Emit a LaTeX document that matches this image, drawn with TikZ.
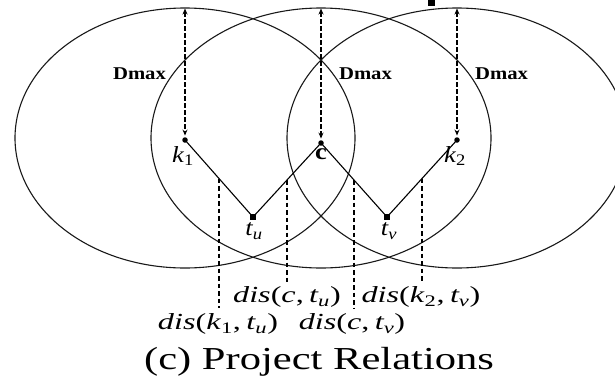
\documentclass[tikz,border=0pt]{standalone}
\usepackage{fontspec}
\setmainfont{Liberation Serif}
\usetikzlibrary{arrows.meta,calc}
\begin{document}
\begin{tikzpicture}[x=1pt,y=-1pt,
  ring/.style={draw=black!90, line width=1.1pt},
  dot/.style={circle, fill=black, inner sep=0pt, minimum size=5.5pt},
  dmaxarrow/.style={line width=1.2pt, dash pattern=on 4.5pt off 2.5pt, {Stealth[length=6pt,width=5pt]}-{Stealth[length=6pt,width=5pt]}, shorten <=0.5pt, shorten >=1.5pt},
  zig/.style={line width=1.1pt},
  dropline/.style={line width=1.2pt, dash pattern=on 4.5pt off 3pt},
  dmaxlabel/.style={font=\fontsize{18}{18}\selectfont\bfseries, inner sep=0pt, xscale=1.15},
  ptlabel/.style={font=\fontsize{23}{23}\selectfont, inner sep=0pt, xscale=1.15},
  dislabel/.style={font=\fontsize{23}{23}\selectfont, inner sep=0pt, xscale=1.4},
  titlelabel/.style={font=\fontsize{32}{32}\selectfont, inner sep=0pt, xscale=1.33}
]
\useasboundingbox (0,0) rectangle (615,381);
\clip (0,0) rectangle (615,381);

% ellipses
\draw[ring] (185,138) ellipse [x radius=170pt, y radius=130pt];
\draw[ring] (321,138) ellipse [x radius=170pt, y radius=130pt];
\draw[ring] (457,138) ellipse [x radius=170pt, y radius=130pt];

% small blob at top
\fill (428,0) rectangle (435,6);

% points
\node[dot] (k1) at (185,140) {};
\node[dot] (c) at (321,143) {};
\node[dot] (k2) at (457,140) {};
\node[dot, rectangle, minimum size=5.5pt] (tu) at (253,217) {};
\node[dot, rectangle, minimum size=5.5pt] (tv) at (387,217) {};

% tops of the ellipses
\coordinate (top1) at (185,8);
\coordinate (top2) at (321,8);
\coordinate (top3) at (457,8);

% Dmax arrows
\draw[dmaxarrow] (top1) -- (k1);
\draw[dmaxarrow] (top2) -- (c);
\draw[dmaxarrow] (top3) -- (k2);

\node[dmaxlabel] (d1) at (139.5,74) {Dmax};
\node[dmaxlabel] (d2) at (365.5,74) {Dmax};
\node[dmaxlabel] (d3) at (501.5,74) {Dmax};

% zigzag
\draw[zig] (k1.center) -- (tu.center) -- (c.center) -- (tv.center) -- (k2.center);

% point labels
\node[ptlabel] (lk1) at (183,156) {\textit{k}\textsubscript{1}};
\node[ptlabel] (lc) at (321,154) {\textbf{c}};
\node[ptlabel] (lk2) at (455,156) {\textit{k}\textsubscript{2}};
\node[ptlabel] (ltu) at (254,231) {\textit{t\textsubscript{u}}};
\node[ptlabel] (ltv) at (389,231) {\textit{t\textsubscript{v}}};

% drop lines from midpoints
\coordinate (m1) at ($(k1)!0.5!(tu)$);
\coordinate (m2) at ($(tu)!0.5!(c)$);
\coordinate (m3) at ($(c)!0.5!(tv)$);
\coordinate (m4) at ($(tv)!0.5!(k2)$);
\coordinate (b1) at (219,308);
\coordinate (b2) at (287,282);
\coordinate (b3) at (354,309);
\coordinate (b4) at (422,282);
\draw[dropline] (m1) -- (m1 |- b1);
\draw[dropline] (m2) -- (m2 |- b2);
\draw[dropline] (m3) -- (m3 |- b3);
\draw[dropline] (m4) -- (m4 |- b4);

% distance labels
\node[dislabel] (dis2) at (287,297) {\textit{dis}(\textit{c},\,\textit{t\textsubscript{u}})};
\node[dislabel] (dis4) at (421,297) {\textit{dis}(\textit{k}\textsubscript{2},\,\textit{t\textsubscript{v}})};
\node[dislabel] (dis1) at (218,324) {\textit{dis}(\textit{k}\textsubscript{1},\,\textit{t\textsubscript{u}})};
\node[dislabel] (dis3) at (352,324) {\textit{dis}(\textit{c},\,\textit{t\textsubscript{v}})};

% caption
\node[titlelabel] (title) at (319,362) {(c) Project Relations};
\end{tikzpicture}
\end{document}
